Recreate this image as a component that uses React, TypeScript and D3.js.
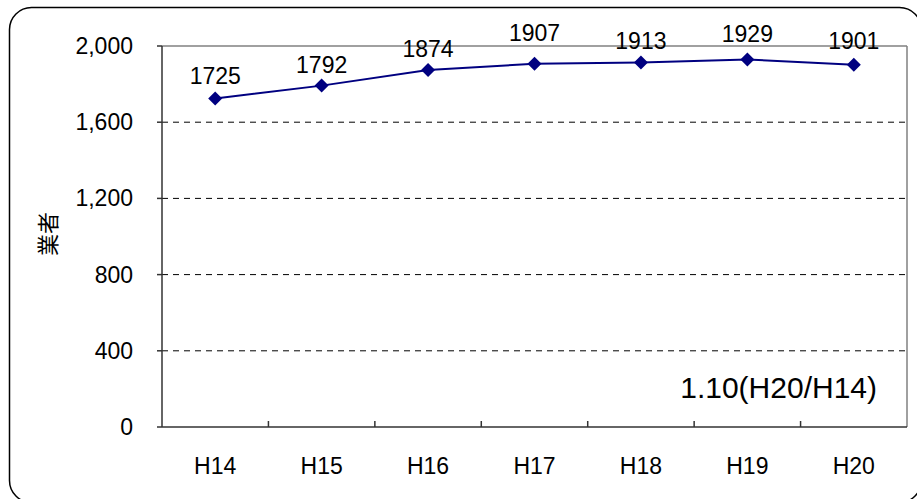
import React from 'react';
import * as d3 from 'd3';

const years = ['H14', 'H15', 'H16', 'H17', 'H18', 'H19', 'H20'];
const counts = [1725, 1792, 1874, 1907, 1913, 1929, 1901];
const yTicks = [0, 400, 800, 1200, 1600, 2000];
// how far each value label sits above its marker (hand-nudged like in the original)
const labelLift = [22, 21, 21, 31, 22, 26, 24];

const W = 917;
const H = 499;
const plot = { left: 162, top: 46, right: 907, bottom: 427 };
const font = 'Arial, "Liberation Sans", sans-serif';

export default function App() {
  const x = d3.scaleBand().domain(years).range([plot.left, plot.right]);
  const y = d3.scaleLinear().domain([0, 2000]).range([plot.bottom, plot.top]);
  const cx = (d: string) => (x(d) as number) + x.bandwidth() / 2;

  const line = d3.line<number>()
    .x((d, i) => cx(years[i]))
    .y(d => y(d));

  const diamond = d3.symbol().type(d3.symbolSquare).size(98)();
  const fmt = d3.format(',');

  return (
    <svg width={W} height={H} style={{ position: 'absolute', left: 0, top: 0, background: '#fff' }}>
      <rect x={9.5} y={7.5} width={912} height={495} rx={22} fill="#fff" stroke="#000" strokeWidth={1.5} />

      {/* grid */}
      {yTicks.filter(t => t > 0 && t < 2000).map(t => (
        <line key={t} x1={plot.left} x2={plot.right} y1={y(t)} y2={y(t)}
          stroke="#000" strokeWidth={1} strokeDasharray="6,5" />
      ))}

      {/* frame: top/right gray, left/bottom dark */}
      <line x1={plot.left} x2={plot.right} y1={plot.top} y2={plot.top} stroke="#808080" strokeWidth={1.5} />
      <line x1={plot.right} x2={plot.right} y1={plot.top} y2={plot.bottom} stroke="#808080" strokeWidth={1.5} />
      <line x1={plot.left} x2={plot.left} y1={plot.top} y2={plot.bottom} stroke="#333" strokeWidth={1.5} />
      <line x1={plot.left} x2={plot.right} y1={plot.bottom} y2={plot.bottom} stroke="#333" strokeWidth={1.5} />

      {/* y ticks */}
      {yTicks.map(t => (
        <g key={t}>
          <line x1={plot.left - 5} x2={plot.left} y1={y(t)} y2={y(t)} stroke="#333" strokeWidth={1.5} />
          <text x={133} y={y(t)} dy="0.35em" textAnchor="end" fontFamily={font} fontSize={23} fill="#000">
            {fmt(t)}
          </text>
        </g>
      ))}

      {/* x ticks & labels */}
      {years.map((d, i) => (
        <g key={d}>
          {i > 0 && (
            <line x1={x(d)} x2={x(d)} y1={plot.bottom} y2={plot.bottom - 6} stroke="#333" strokeWidth={1.5} />
          )}
          <text x={cx(d)} y={466} dy="0.35em" textAnchor="middle" fontFamily={font} fontSize={23} fill="#000">
            {d}
          </text>
        </g>
      ))}

      <text transform="translate(48,234) rotate(-90)" textAnchor="middle" dy="0.35em"
        fontFamily='"Noto Sans CJK JP", sans-serif' fontSize={22} fill="#000">業者</text>

      <path d={line(counts) as string} fill="none" stroke="#000080" strokeWidth={2} />
      {counts.map((v, i) => (
        <g key={i}>
          <path d={diamond as string} transform={`translate(${cx(years[i])},${y(v)}) rotate(45)`} fill="#000080" />
          <text x={cx(years[i])} y={y(v) - labelLift[i]} dy="0.35em" textAnchor="middle"
            fontFamily={font} fontSize={23} fill="#000">{v}</text>
        </g>
      ))}

      <text x={877} y={387} dy="0.35em" textAnchor="end" fontFamily={font} fontSize={30} fill="#000">
        1.10(H20/H14)
      </text>
    </svg>
  );
}
